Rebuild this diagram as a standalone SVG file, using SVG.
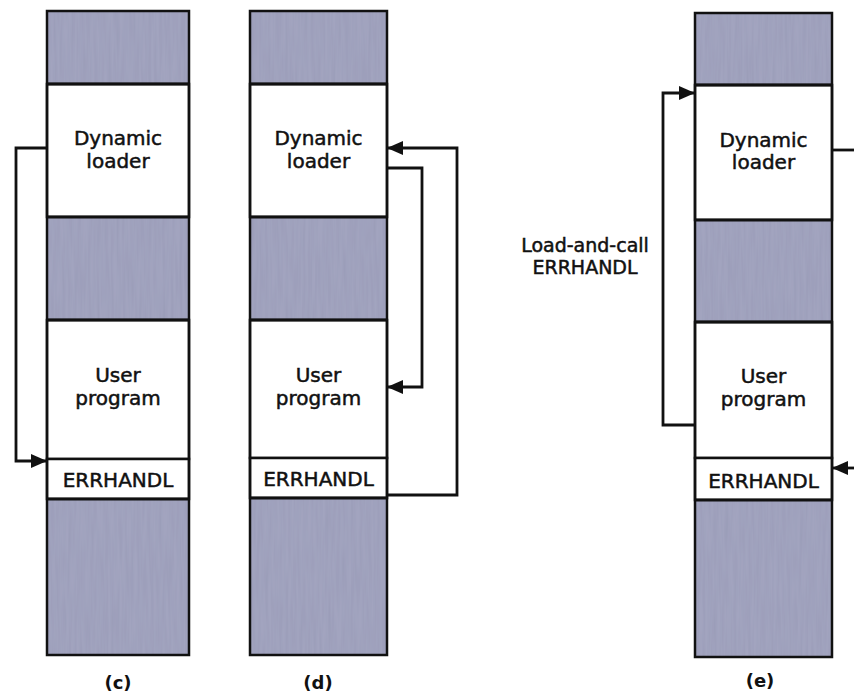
<svg xmlns="http://www.w3.org/2000/svg" width="854" height="696" viewBox="0 0 854 696">
  <style>
    .shade { fill: #a2a4bf; stroke: none; }
    .edge { fill: none; stroke: #111; stroke-width: 2.5; }
    .div { stroke: #111; stroke-width: 3; }
    .box { fill: #ffffff; stroke: #111; stroke-width: 2.5; }
    .lbl { font-family: "DejaVu Sans", "Liberation Sans", sans-serif; font-size: 20px; fill: #111; stroke: #111; stroke-width: 0.5; text-anchor: middle; }
    .note { font-family: "DejaVu Sans", "Liberation Sans", sans-serif; font-size: 19px; fill: #111; stroke: #111; stroke-width: 0.5; text-anchor: middle; }
    .cap { font-family: "DejaVu Sans", "Liberation Sans", sans-serif; font-size: 18px; font-weight: bold; fill: #111; text-anchor: middle; }
    .conn { fill: none; stroke: #111; stroke-width: 2.8; stroke-linejoin: miter; }
  </style>
  <defs>
    <filter id="tex" x="0" y="0" width="100%" height="100%">
      <feTurbulence type="fractalNoise" baseFrequency="0.35 0.02" numOctaves="2" seed="4" result="n"/>
      <feColorMatrix in="n" type="matrix" values="0 0 0 0 0.30  0 0 0 0 0.31  0 0 0 0 0.45  0 0 0 0.9 -0.25" result="c"/>
      <feComposite in="c" in2="SourceGraphic" operator="atop"/>
    </filter>
    <marker id="arrow" viewBox="0 0 16 14" refX="16" refY="7" markerWidth="16" markerHeight="14" markerUnits="userSpaceOnUse" orient="auto">
      <path d="M0,0 L16,7 L0,14 Z" fill="#111"/>
    </marker>
  </defs>

  <!-- Column (c) -->
  <g id="col-c">
    <g id="c-top"><rect class="shade" filter="url(#tex)" x="47" y="11" width="142" height="73"/></g>
    <g id="c-loader"><rect class="box" x="47" y="84" width="142" height="133"/>
      <text class="lbl" x="118" y="145">Dynamic</text><text class="lbl" x="118" y="168">loader</text></g>
    <g id="c-mid"><rect class="shade" filter="url(#tex)" x="47" y="217" width="142" height="103"/></g>
    <g id="c-user"><rect class="box" x="47" y="320" width="142" height="139"/>
      <text class="lbl" x="118" y="382">User</text><text class="lbl" x="118" y="405">program</text></g>
    <g id="c-err"><rect class="box" x="47" y="459" width="142" height="40"/>
      <text class="lbl" x="118" y="487">ERRHANDL</text></g>
    <g id="c-bottom"><rect class="shade" filter="url(#tex)" x="47" y="499" width="142" height="156"/></g>
    <rect class="edge" x="47" y="11" width="142" height="644"/>
    <path class="div" d="M47,84 H189 M47,217 H189 M47,320 H189 M47,499 H189"/>
    <text class="cap" x="118" y="689">(c)</text>
  </g>

  <!-- Column (d) -->
  <g id="col-d">
    <g id="d-top"><rect class="shade" filter="url(#tex)" x="250" y="11" width="137" height="73"/></g>
    <g id="d-loader"><rect class="box" x="250" y="84" width="137" height="133"/>
      <text class="lbl" x="318.5" y="145">Dynamic</text><text class="lbl" x="318.5" y="168">loader</text></g>
    <g id="d-mid"><rect class="shade" filter="url(#tex)" x="250" y="217" width="137" height="103"/></g>
    <g id="d-user"><rect class="box" x="250" y="320" width="137" height="138"/>
      <text class="lbl" x="318.5" y="382">User</text><text class="lbl" x="318.5" y="405">program</text></g>
    <g id="d-err"><rect class="box" x="250" y="458" width="137" height="40"/>
      <text class="lbl" x="318.5" y="486">ERRHANDL</text></g>
    <g id="d-bottom"><rect class="shade" filter="url(#tex)" x="250" y="498" width="137" height="157"/></g>
    <rect class="edge" x="250" y="11" width="137" height="644"/>
    <path class="div" d="M250,84 H387 M250,217 H387 M250,320 H387 M250,498 H387"/>
    <text class="cap" x="318" y="689">(d)</text>
  </g>

  <!-- Column (e) -->
  <g id="col-e">
    <g id="e-top"><rect class="shade" filter="url(#tex)" x="695" y="13" width="137" height="72"/></g>
    <g id="e-loader"><rect class="box" x="695" y="85" width="137" height="135"/>
      <text class="lbl" x="763.5" y="147">Dynamic</text><text class="lbl" x="763.5" y="169">loader</text></g>
    <g id="e-mid"><rect class="shade" filter="url(#tex)" x="695" y="220" width="137" height="102"/></g>
    <g id="e-user"><rect class="box" x="695" y="322" width="137" height="136"/>
      <text class="lbl" x="763.5" y="383">User</text><text class="lbl" x="763.5" y="406">program</text></g>
    <g id="e-err"><rect class="box" x="695" y="458" width="137" height="42"/>
      <text class="lbl" x="763.5" y="488">ERRHANDL</text></g>
    <g id="e-bottom"><rect class="shade" filter="url(#tex)" x="695" y="500" width="137" height="157"/></g>
    <rect class="edge" x="695" y="13" width="137" height="644"/>
    <path class="div" d="M695,85 H832 M695,220 H832 M695,322 H832 M695,500 H832"/>
    <text class="cap" x="760" y="687">(e)</text>
  </g>

  <!-- Connectors -->
  <g id="connectors">
    <path class="conn" d="M47,148 H16 V461 H47" marker-end="url(#arrow)"/>
    <path class="conn" d="M387,495 H457 V148 H387" marker-end="url(#arrow)"/>
    <path class="conn" d="M387,168 H422 V387 H387" marker-end="url(#arrow)"/>
    <path class="conn" d="M695,425 H663 V93 H695" marker-end="url(#arrow)"/>
    <path class="conn" d="M832,150 H860"/>
    <path class="conn" d="M860,468 H832" marker-end="url(#arrow)"/>
    <text class="note" x="585" y="252">Load-and-call</text>
    <text class="note" x="585" y="274">ERRHANDL</text>
  </g>
</svg>
